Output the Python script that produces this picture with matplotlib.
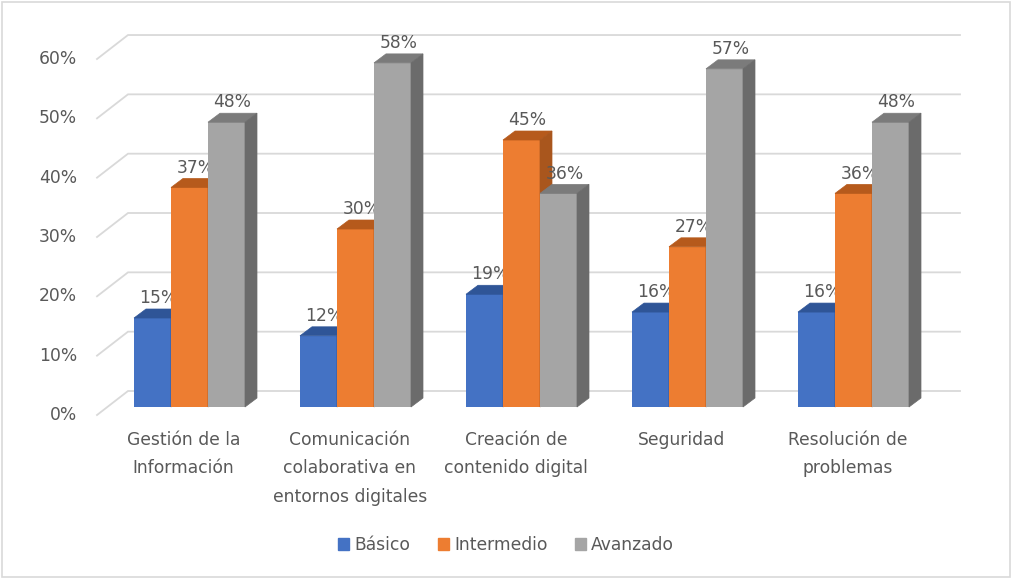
import matplotlib.pyplot as plt
from matplotlib.patches import Polygon, Rectangle

# data
categories = ["Gestión de la\nInformación", "Comunicación\ncolaborativa en\nentornos digitales",
              "Creación de\ncontenido digital", "Seguridad", "Resolución de\nproblemas"]
series = ["Básico", "Intermedio", "Avanzado"]
basico = [15, 12, 19, 16, 16]
intermedio = [37, 30, 45, 27, 36]
avanzado = [48, 58, 36, 57, 48]
yticks = [0, 10, 20, 30, 40, 50, 60]

front_colors = ["#4472C4", "#ED7D31", "#A5A5A5"]
top_colors = ["#2F5597", "#B65A1C", "#7B7B7B"]
side_colors = ["#30528F", "#A9561D", "#6B6B6B"]
text_color = "#595959"
fs = 12.3

W, H = 1012, 579
fig = plt.figure(figsize=(W / 100, H / 100), dpi=100)
ax = fig.add_axes([0, 0, 1, 1])

# pixel scales
px_x = 166.0          # pixels per category
px_y = 5.933          # pixels per percent
x0_px = 189.5         # pixel x of first group centre
y0_px = H - 407       # pixel (from bottom) of bar baseline
ax.set_xlim(-x0_px / px_x, (W - x0_px) / px_x)
ax.set_ylim(-y0_px / px_y, (H - y0_px) / px_y)
ax.axis("off")

# depth offsets in data units
bdx, bdy = 12 / px_x, 9 / px_y               # bar depth
front_dy = -8 / px_y                          # floor front edge relative to bar plane
back_dy = 16 / px_y                           # back wall relative to bar plane

# gridlines (front diagonal + back wall line)
for t in yticks:
    xf = (97 - x0_px) / px_x
    xb = (128 - x0_px) / px_x
    xr = (960 - x0_px) / px_x
    ax.plot([xf, xb, xr], [t + front_dy, t + back_dy, t + back_dy],
            color="#d9d9d9", lw=1.3, zorder=0, solid_joinstyle="miter")
    ax.text((77 - x0_px) / px_x, t + front_dy, f"{t}%", ha="right", va="center",
            fontsize=fs, color=text_color)

bw = 37 / px_x
values = [basico, intermedio, avanzado]
for i in range(len(categories)):
    for j, vals in enumerate(values):
        v = vals[i]
        xl = i + (j - 1.5) * bw
        xr_ = xl + bw
        z = 2 + i * 3 + j
        ax.bar(xl, v, width=bw, align="edge", color=front_colors[j], linewidth=0, zorder=z)
        ax.add_patch(Polygon([(xl, v), (xr_, v), (xr_ + bdx, v + bdy), (xl + bdx, v + bdy)],
                             closed=True, facecolor=top_colors[j], edgecolor=top_colors[j],
                             lw=0.5, zorder=z))
        ax.add_patch(Polygon([(xr_, 0), (xr_ + bdx, bdy), (xr_ + bdx, v + bdy), (xr_, v)],
                             closed=True, facecolor=side_colors[j], edgecolor=side_colors[j],
                             lw=0.5, zorder=z))
        ax.text(xl + bw / 2 + bdx / 2, v + bdy + 0.3, f"{v}%", ha="center", va="bottom",
                fontsize=fs, color=text_color, zorder=z + 0.5)
    ax.text(i - 0.035, -4.0, categories[i], ha="center", va="top", fontsize=fs,
            color=text_color, linespacing=1.75)

handles = [Rectangle((0, 0), 1, 1, color=c) for c in front_colors]
fig.legend(handles, series, loc="center", bbox_to_anchor=(0.5, 1 - 545 / H), ncol=3,
           frameon=False, fontsize=fs, labelcolor=text_color, handlelength=0.65,
           handleheight=0.65, handletextpad=0.3, columnspacing=1.6)

fig.patches.append(Rectangle((0.002, 0.003), 0.996, 0.994, transform=fig.transFigure,
                             fill=False, edgecolor="#d9d9d9", lw=1.2))

fig.savefig("out.png", dpi=100)
